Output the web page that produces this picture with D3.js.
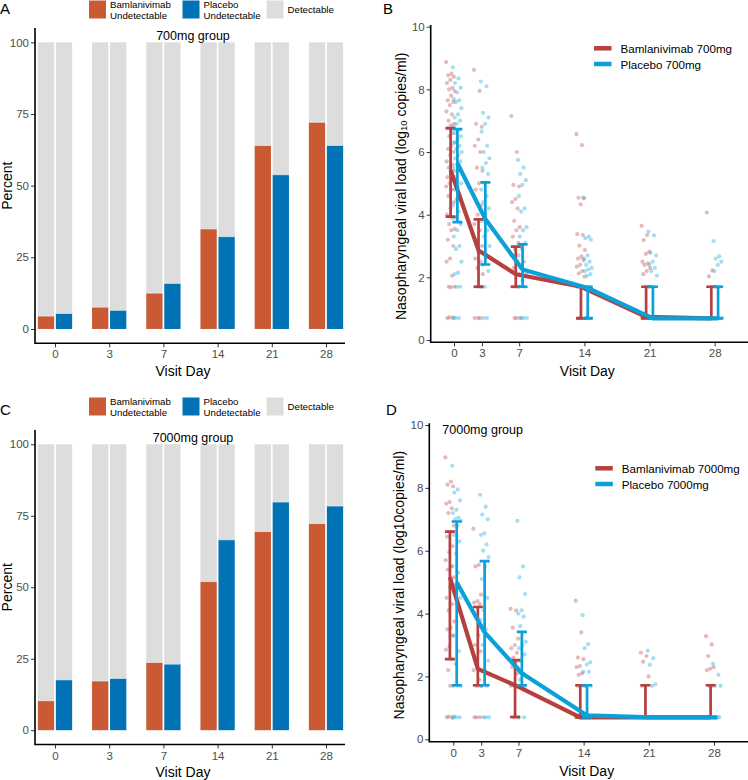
<!DOCTYPE html>
<html>
<head>
<meta charset="utf-8">
<script src="https://cdn.jsdelivr.net/npm/d3@7"></script>
<style>
  body { margin: 0; background: #fff; }
  svg { display: block; font-family: "Liberation Sans", Arial, sans-serif; }
</style>
</head>
<body>
<svg id="chart" width="748" height="780"></svg>
<script>
// visit days (shared by all panels)
const days = [0, 3, 7, 14, 21, 28];

// percent undetectable (panels A and C)
const pctBam700 = [4.5, 7.6, 12.5, 34.9, 64.0, 72.1];
const pctPla700 = [5.4, 6.5, 15.9, 32.2, 53.8, 64.0];
const pctBam7000 = [10.3, 17.2, 23.7, 52.0, 69.5, 72.3];
const pctPla7000 = [17.6, 18.1, 23.1, 66.6, 79.8, 78.4];

// median and IQR of viral load (panels B and D)
const medBam700 = [5.42, 2.86, 2.1, 1.7, 0.74, 0.69];
const q1Bam700 = [3.94, 1.7, 1.7, 0.69, 0.69, 0.69];
const q3Bam700 = [6.76, 3.85, 2.98, 1.7, 1.7, 1.7];
const medPla700 = [5.64, 3.86, 2.25, 1.66, 0.69, 0.69];
const q1Pla700 = [3.76, 2.41, 1.7, 0.69, 0.69, 0.69];
const q3Pla700 = [6.73, 5.03, 3.05, 1.7, 1.7, 1.7];

const medBam7000 = [5.15, 2.24, 1.72, 0.7, 0.7, 0.7];
const q1Bam7000 = [2.55, 1.72, 0.71, 0.7, 0.7, 0.7];
const q3Bam7000 = [6.61, 4.21, 2.52, 1.72, 1.72, 1.72];
const medPla7000 = [5.0, 3.4, 2.1, 0.76, 0.7, 0.7];
const q1Pla7000 = [1.72, 1.72, 1.72, 0.7, 0.7, 0.7];
const q3Pla7000 = [6.93, 5.67, 3.42, 1.72, 0.7, 0.7];

// individual viral loads, one list per visit day
const ptsBam700 = [
  [8.87, 8.5, 8.45, 8.4, 8.3, 8.2, 8.05, 8.0, 7.95, 7.8, 7.65, 7.6, 7.5, 7.3, 7.2, 7.0, 6.9, 6.85, 6.75, 6.6, 6.5, 6.3, 6.2, 6.1, 6.0, 5.9, 5.7, 5.6, 5.5, 5.4, 5.3, 5.2, 5.1, 5.0, 4.9, 4.8, 4.6, 4.4, 4.2, 4.0, 3.9, 3.7, 3.55, 3.5, 3.2, 3.0, 2.6, 2.5, 2.05, 1.7, 1.7, 1.68, 0.7, 0.7, 0.72],
  [8.62, 7.95, 6.9, 6.8, 6.4, 6.2, 6.0, 5.5, 5.4, 5.0, 4.8, 4.3, 4.0, 3.7, 3.5, 3.2, 3.0, 2.8, 2.6, 2.5, 2.3, 2.1, 1.7, 1.7, 1.7, 0.7, 0.7, 0.7],
  [7.15, 6.0, 4.95, 4.9, 4.5, 4.4, 4.2, 3.8, 3.6, 3.5, 3.3, 3.1, 2.9, 2.7, 2.5, 2.3, 2.1, 1.7, 1.7, 1.7, 0.7, 0.7, 0.7],
  [6.57, 6.22, 4.54, 4.52, 4.33, 3.38, 3.35, 3.01, 2.87, 2.66, 2.6, 2.55, 2.4, 2.34, 2.2, 2.13, 2.02, 1.7, 1.7, 1.7, 0.7, 0.7, 0.7, 0.7],
  [3.64, 3.35, 3.19, 2.82, 2.75, 2.5, 2.45, 2.4, 2.3, 2.2, 2.1, 1.7, 1.7, 0.7, 0.7, 0.7],
  [4.07, 2.22, 2.03, 1.7, 1.7, 0.7, 0.7, 0.7]
];
const ptsPla700 = [
  [8.7, 8.35, 8.2, 8.05, 7.9, 7.7, 7.65, 7.6, 7.4, 7.2, 7.1, 7.0, 6.9, 6.8, 6.7, 6.6, 6.5, 6.4, 6.3, 6.2, 6.1, 6.0, 5.9, 5.8, 5.7, 5.6, 5.5, 5.4, 5.2, 5.0, 4.9, 4.8, 4.6, 4.5, 4.3, 4.1, 3.9, 3.7, 3.5, 3.3, 3.0, 2.9, 2.5, 2.15, 2.1, 1.7, 1.7, 0.72, 0.7, 0.7],
  [8.25, 8.1, 7.25, 7.1, 6.9, 6.65, 6.2, 6.0, 5.8, 5.65, 5.5, 5.3, 5.0, 4.8, 4.6, 4.4, 4.2, 4.0, 3.8, 3.5, 3.3, 3.0, 2.7, 2.4, 2.2, 1.7, 1.7, 0.7, 0.7],
  [5.75, 5.5, 5.3, 5.1, 4.95, 4.6, 4.2, 4.1, 3.6, 3.5, 3.3, 3.1, 2.9, 2.7, 2.5, 2.3, 2.1, 1.9, 1.7, 1.7, 0.7, 0.7, 0.7],
  [4.55, 3.3, 3.25, 3.2, 2.7, 2.6, 2.5, 2.4, 2.3, 2.25, 2.2, 2.1, 2.05, 1.7, 1.7, 0.7, 0.7, 0.7],
  [3.46, 3.34, 2.78, 2.7, 2.5, 2.4, 2.3, 2.2, 2.05, 1.7, 1.7, 0.7, 0.7, 0.7],
  [3.16, 2.67, 2.6, 2.5, 2.4, 2.2, 1.7, 1.7, 0.7, 0.7, 0.7]
];
const ptsBam7000 = [
  [8.97, 8.2, 8.1, 8.05, 7.55, 7.5, 7.35, 7.2, 6.8, 6.6, 6.45, 6.15, 5.95, 5.7, 5.5, 5.4, 5.15, 4.85, 4.5, 4.3, 4.1, 3.75, 3.55, 3.5, 3.3, 2.95, 2.85, 2.55, 2.2, 1.7, 1.7, 0.7, 0.7, 0.72],
  [6.7, 5.55, 5.5, 4.6, 4.4, 4.35, 4.3, 3.9, 3.6, 3.3, 3.0, 2.8, 2.55, 2.2, 1.9, 1.7, 1.7, 1.7, 0.7, 0.7, 0.7],
  [4.15, 4.1, 3.55, 3.2, 3.0, 2.9, 2.75, 2.6, 2.5, 2.4, 2.3, 2.1, 1.7, 1.7, 1.7, 0.7, 0.7, 0.7],
  [4.41, 3.4, 2.6, 2.55, 2.33, 2.3, 2.1, 2.05, 1.7, 1.7, 1.7, 0.7, 0.7, 0.7, 0.7],
  [2.76, 2.65, 2.47, 2.0, 1.7, 1.7, 0.7, 0.7, 0.7],
  [3.28, 3.02, 2.65, 2.3, 2.25, 2.2, 1.7, 1.7, 0.7, 0.7, 0.7]
];
const ptsPla7000 = [
  [8.7, 7.95, 7.85, 7.6, 7.3, 7.2, 7.05, 7.0, 6.95, 6.8, 6.5, 6.3, 5.9, 5.5, 5.3, 4.9, 4.5, 4.3, 3.3, 2.8, 2.4, 1.7, 1.7, 0.72, 0.7, 0.7, 0.68],
  [7.78, 7.4, 7.15, 7.0, 6.55, 6.5, 6.2, 6.0, 5.8, 5.5, 5.1, 4.5, 4.1, 3.8, 3.5, 3.0, 2.5, 2.2, 1.7, 1.7, 0.7, 0.7, 0.7],
  [6.95, 5.5, 5.15, 4.62, 4.1, 4.0, 3.9, 3.6, 3.1, 3.0, 2.9, 2.7, 2.5, 2.3, 2.1, 1.9, 1.7, 1.7, 0.7, 0.7],
  [3.95, 3.03, 2.9, 2.45, 2.38, 2.15, 2.15, 1.7, 1.7, 0.7, 0.7, 0.7],
  [2.82, 2.58, 2.37, 1.75, 1.7, 0.7, 0.7, 0.7],
  [2.4, 2.05, 1.7, 1.7, 0.7, 0.7, 0.7]
];

const barBam = '#c95a34';
const barPla = '#0072b5';
const barGrey = '#dddddd';
const lineBam = '#b5403f';
const linePla = '#0aa0d8';
const tickGrey = '#4d4d4d';

const svg = d3.select('#chart');
svg.append('rect').attr('width', 748).attr('height', 780).attr('fill', '#fff');

function panelLetter(txt, x, y) {
  svg.append('text').attr('x', x).attr('y', y)
    .attr('font-size', 15).attr('fill', '#000').text(txt);
}

function styleAxis(g) {
  g.select('.domain').remove();
  g.selectAll('.tick line').attr('stroke', '#333').attr('stroke-width', 1);
  g.selectAll('.tick text').attr('fill', tickGrey).attr('font-size', 11.5)
    .attr('font-family', '"Liberation Sans", Arial, sans-serif');
}

// stacked percent bars (A, C)
function drawBars(o) {
  const x = d3.scalePoint().domain(days).range([55, 326]);
  const y = d3.scaleLinear().domain([-5, 105]).range([o.bottom, o.top]);
  const g = svg.append('g');
  const bw = 16.3, gap = 0.85;
  const rows = days.map((d, i) => ({ day: d, bam: o.bam[i], pla: o.pla[i] }));

  [['bam', -bw - gap, barBam], ['pla', gap, barPla]].forEach(([k, off, col]) => {
    g.selectAll(null).data(rows).enter().append('rect')
      .attr('x', d => x(d.day) + off).attr('width', bw)
      .attr('y', y(100)).attr('height', d => y(d[k]) - y(100))
      .attr('fill', barGrey);
    g.selectAll(null).data(rows).enter().append('rect')
      .attr('x', d => x(d.day) + off).attr('width', bw)
      .attr('y', d => y(d[k])).attr('height', d => y(0) - y(d[k]))
      .attr('fill', col);
    // thin white edge between the two parts
    g.selectAll(null).data(rows).enter().append('line')
      .attr('x1', d => x(d.day) + off).attr('x2', d => x(d.day) + off + bw)
      .attr('y1', d => y(d[k])).attr('y2', d => y(d[k]))
      .attr('stroke', '#f4f4f4').attr('stroke-width', 0.6);
  });

  const ya = g.append('g').attr('transform', 'translate(35,0)')
    .call(d3.axisLeft(y).tickValues([0, 25, 50, 75, 100]).tickSize(4).tickPadding(2));
  styleAxis(ya);
  const xa = g.append('g').attr('transform', `translate(0,${o.bottom})`)
    .call(d3.axisBottom(x).tickSize(4).tickPadding(3));
  styleAxis(xa);

  g.append('path').attr('d', `M35,${o.top}V${o.bottom}H345`)
    .attr('fill', 'none').attr('stroke', '#000').attr('stroke-width', 1.6);

  g.append('text').attr('x', 193).attr('y', o.top + 8).attr('text-anchor', 'middle')
    .attr('dominant-baseline', 'central').attr('font-size', 12.5).text(o.title);

  g.append('text').attr('transform', `translate(7,${(o.top + o.bottom) / 2}) rotate(-90)`)
    .attr('text-anchor', 'middle').attr('dominant-baseline', 'central')
    .attr('font-size', 14).text('Percent');
  g.append('text').attr('x', 183).attr('y', o.bottom + 27.5).attr('text-anchor', 'middle')
    .attr('dominant-baseline', 'central').attr('font-size', 14).text('Visit Day');

  // legend
  const ly = o.legendY;
  const leg = [
    { x: 89, col: barBam, lines: ['Bamlanivimab', 'Undetectable'] },
    { x: 182.5, col: barPla, lines: ['Placebo', 'Undetectable'] },
    { x: 266.5, col: barGrey, lines: ['Detectable'] }
  ];
  leg.forEach(l => {
    g.append('rect').attr('x', l.x).attr('y', ly - 9).attr('width', 17).attr('height', 18)
      .attr('fill', l.col);
    l.lines.forEach((t, i) => {
      const cy = l.lines.length === 1 ? ly : ly - 5.5 + i * 11;
      g.append('text').attr('x', l.x + 21).attr('y', cy)
        .attr('dominant-baseline', 'central').attr('font-size', 9.7).text(t);
    });
  });
}

// viral load scatter with median/IQR (B, D)
function drawScatter(o) {
  const x = d3.scaleLinear().domain([0, 28]).range(o.xr);
  const y = d3.scaleLinear().domain([0, 10]).range(o.yr);
  const g = svg.append('g');
  const jit = j => ((j * 0.6180339887) % 1 - 0.5) * 9;

  const groups = [
    { pts: o.bam.pts, med: o.bam.med, q1: o.bam.q1, q3: o.bam.q3, col: lineBam, pc: 'rgba(196,90,90,0.42)', dx: -3.4 },
    { pts: o.pla.pts, med: o.pla.med, q1: o.pla.q1, q3: o.pla.q3, col: linePla, pc: 'rgba(40,175,225,0.42)', dx: 3.4 }
  ];

  groups.forEach(gr => {
    const flat = [];
    gr.pts.forEach((vals, i) => vals.forEach((v, j) => flat.push({ day: days[i], v, j })));
    g.selectAll(null).data(flat).enter().append('circle')
      .attr('cx', d => x(d.day) + gr.dx + jit(d.j))
      .attr('cy', d => y(d.v)).attr('r', 2.1).attr('fill', gr.pc);
  });

  groups.forEach(gr => {
    const rows = days.map((d, i) => ({ day: d, q1: gr.q1[i], q3: gr.q3[i] }))
      .filter(r => r.q3 - r.q1 > 0.01);
    g.selectAll(null).data(rows).enter().append('path')
      .attr('d', r => {
        const cx = x(r.day) + gr.dx;
        return `M${cx - 5},${y(r.q3)}H${cx + 5}M${cx},${y(r.q3)}V${y(r.q1)}M${cx - 5},${y(r.q1)}H${cx + 5}`;
      })
      .attr('fill', 'none').attr('stroke', gr.col).attr('stroke-width', 2.7);
    const line = d3.line().x((d, i) => x(days[i]) + gr.dx).y(d => y(d));
    g.append('path').attr('d', line(gr.med)).attr('fill', 'none')
      .attr('stroke', gr.col).attr('stroke-width', 4.2).attr('stroke-linejoin', 'round');
  });

  const ya = g.append('g').attr('transform', `translate(${o.axisX},0)`)
    .call(d3.axisLeft(y).tickValues([0, 2, 4, 6, 8, 10]).tickSize(4).tickPadding(2));
  styleAxis(ya);
  const xa = g.append('g').attr('transform', `translate(0,${o.axisY})`)
    .call(d3.axisBottom(x).tickValues(days).tickSize(4).tickPadding(3));
  styleAxis(xa);
  g.append('path').attr('d', `M${o.axisX},${o.yr[1] - 1.7}V${o.axisY}H748`)
    .attr('fill', 'none').attr('stroke', '#000').attr('stroke-width', 1.6);

  g.append('text').attr('x', (o.xr[0] + o.xr[1]) / 2 + 3).attr('y', o.axisY + 29)
    .attr('text-anchor', 'middle').attr('dominant-baseline', 'central')
    .attr('font-size', 14).text('Visit Day');

  const yl = g.append('text')
    .attr('transform', `translate(${o.labelX},${(o.yr[0] + o.yr[1]) / 2 + 3}) rotate(-90)`)
    .attr('text-anchor', 'middle').attr('dominant-baseline', 'central').attr('font-size', 14);
  o.ylabel.forEach(p => {
    const t = yl.append('tspan').text(p.t);
    if (p.sub) t.attr('font-size', 9.5).attr('baseline-shift', '-25%');
  });

  if (o.title) {
    g.append('text').attr('x', o.axisX + 13).attr('y', o.yr[1] + 5)
      .attr('dominant-baseline', 'central').attr('font-size', 12.5).text(o.title);
  }

  // legend
  [[o.bam.name, lineBam], [o.pla.name, linePla]].forEach(([t, c], i) => {
    const ly = o.legendY + i * 15.7;
    g.append('line').attr('x1', o.legendX).attr('x2', o.legendX + 17.5)
      .attr('y1', ly).attr('y2', ly).attr('stroke', c).attr('stroke-width', 4.5);
    g.append('text').attr('x', o.legendX + 26.5).attr('y', ly)
      .attr('dominant-baseline', 'central').attr('font-size', 11.6).text(t);
  });
}

drawBars({ top: 28, bottom: 343.3, bam: pctBam700, pla: pctPla700, title: '700mg group', legendY: 9.5 });
drawBars({ top: 430, bottom: 744.5, bam: pctBam7000, pla: pctPla7000, title: '7000mg group', legendY: 406.5 });

drawScatter({
  xr: [454, 714.7], yr: [340, 26.7], axisX: 430.7, axisY: 342.3, labelX: 401,
  bam: { pts: ptsBam700, med: medBam700, q1: q1Bam700, q3: q3Bam700, name: 'Bamlanivimab 700mg' },
  pla: { pts: ptsPla700, med: medPla700, q1: q1Pla700, q3: q3Pla700, name: 'Placebo 700mg' },
  ylabel: [{ t: 'Nasopharyngeal viral load (log' }, { t: '10', sub: true }, { t: ' copies/ml)' }],
  legendX: 594, legendY: 48.3
});
drawScatter({
  xr: [453.3, 714], yr: [739.3, 425], axisX: 429.3, axisY: 741.7, labelX: 399,
  bam: { pts: ptsBam7000, med: medBam7000, q1: q1Bam7000, q3: q3Bam7000, name: 'Bamlanivimab 7000mg' },
  pla: { pts: ptsPla7000, med: medPla7000, q1: q1Pla7000, q3: q3Pla7000, name: 'Placebo 7000mg' },
  ylabel: [{ t: 'Nasopharyngeal viral load (log10copies/ml)' }],
  title: '7000mg group',
  legendX: 595.3, legendY: 468.3
});

panelLetter('A', 0, 13.5);
panelLetter('B', 383, 13.5);
panelLetter('C', 0, 415);
panelLetter('D', 386, 415);
</script>
</body>
</html>
